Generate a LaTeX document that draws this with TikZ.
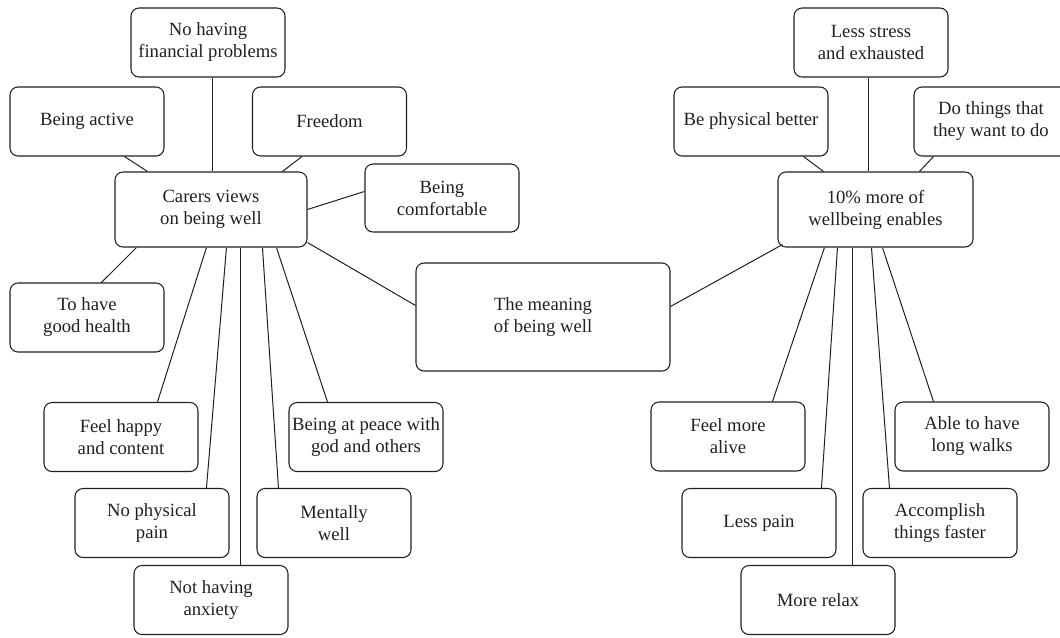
\documentclass[tikz,border=0pt]{standalone}
\usepackage{fontspec}
\setmainfont{Liberation Serif}
\usetikzlibrary{calc}
\definecolor{ink}{HTML}{231F20}
\tikzset{
  box/.style={draw=ink, line width=0.8pt, rounded corners=6pt, minimum width=115.5pt, minimum height=51.75pt,
    inner sep=0pt, align=center, text=ink, font=\fontsize{14}{16.5}\selectfont},
  link/.style={draw=ink, line width=0.75pt}
}
\begin{document}
\begin{tikzpicture}[x=0.75pt,y=-0.75pt]
\useasboundingbox (0,0) rectangle (1060,637);
% left cluster
\node[box] (nofin) at (208,42.5) {No having\\financial problems};
\node[box] (active) at (87,121.5) {Being active};
\node[box] (freedom) at (329.5,121.5) {Freedom};
\node[box, minimum width=144pt, minimum height=56.25pt] (carers) at (211,209.5) {Carers views\\on being well};
\node[box, minimum height=51pt] (comfort) at (442,198) {Being\\comfortable};
\node[box] (health) at (87,317.5) {To have\\good health};
\node[box] (happy) at (121,437) {Feel happy\\and content};
\node[box] (nopain) at (152,523) {No physical\\pain};
\node[box] (anxiety) at (211,600) {Not having\\anxiety};
\node[box] (mental) at (334,523) {Mentally\\well};
\node[box] (peace) at (366,437) {Being at peace with\\god and others};
% centre
\node[box, minimum width=190.5pt, minimum height=81pt] (meaning) at (543,317) {The meaning\\of being well};
% right cluster
\node[box] (stress) at (871,42.5) {Less stress\\and exhausted};
\node[box] (physical) at (751,121.5) {Be physical better};
\node[box] (dothings) at (991,121.5) {Do things that\\they want to do};
\node[box, minimum width=146.25pt, minimum height=56.25pt] (enables) at (875.5,209.5) {10\% more of\\wellbeing enables};
\node[box] (alive) at (728,436.5) {Feel more\\alive};
\node[box] (lesspain) at (759,523) {Less pain};
\node[box] (relax) at (818,600) {More relax};
\node[box] (accomplish) at (940,523) {Accomplish\\things faster};
\node[box] (able) at (972,436.5) {Able to have\\long walks};
% connectors left
\draw[link] ($(active.south west)+(115,0)$) -- ($(carers.north west)+(33,0)$);
\draw[link] ($(nofin.south west)+(82,0)$) -- ($(carers.north west)+(98,0)$);
\draw[link] ($(freedom.south west)+(50,0)$) -- ($(carers.north west)+(168,0)$);
\draw[link] ($(carers.north east)+(0,38)$) -- ($(comfort.north west)+(0,28)$);
\draw[link] ($(carers.south west)+(22,0)$) -- ($(health.north west)+(92,0)$);
\draw[link] ($(carers.south west)+(92,0)$) -- ($(happy.north west)+(114,0)$);
\draw[link] ($(carers.south west)+(112,0)$) -- ($(nopain.north west)+(132,0)$);
\draw[link] ($(carers.south west)+(126,0)$) -- ($(anxiety.north west)+(107,0)$);
\draw[link] ($(carers.south west)+(148,0)$) -- ($(mental.north west)+(22,0)$);
\draw[link] ($(carers.south west)+(162,0)$) -- ($(peace.north west)+(39,0)$);
\draw[link] ($(carers.south east)+(0,-5)$) -- ($(meaning.north west)+(0,43)$);
% connectors right
\draw[link] ($(meaning.north east)+(0,44)$) -- ($(enables.south west)+(5,-3)$);
\draw[link] ($(physical.south west)+(130,0)$) -- ($(enables.north west)+(46,0)$);
\draw[link] ($(stress.south west)+(75,0)$) -- ($(enables.north west)+(91,0)$);
\draw[link] ($(dothings.south west)+(20,0)$) -- ($(enables.north west)+(142,0)$);
\draw[link] ($(enables.south west)+(47,0)$) -- ($(alive.north west)+(122,0)$);
\draw[link] ($(enables.south west)+(60,0)$) -- ($(lesspain.north west)+(140,0)$);
\draw[link] ($(enables.south west)+(75,0)$) -- ($(relax.north west)+(112,0)$);
\draw[link] ($(enables.south west)+(94,0)$) -- ($(accomplish.north west)+(27,0)$);
\draw[link] ($(enables.south west)+(105,0)$) -- ($(able.north west)+(39,0)$);
\end{tikzpicture}
\end{document}
